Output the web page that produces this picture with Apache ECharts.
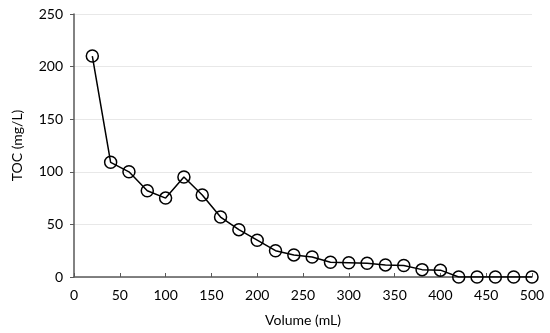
<!DOCTYPE html>
<html><head><meta charset="utf-8">
<script src="https://cdn.jsdelivr.net/npm/echarts@6/dist/echarts.min.js"></script>
<style>html,body{margin:0;padding:0;background:#fff}#c{width:550px;height:333px}</style>
</head><body><div id="c"></div>
<script>
const volumes = [20,40,60,80,100,120,140,160,180,200,220,240,260,280,300,320,340,360,380,400,420,440,460,480,500];
const toc = [210,109,100,82,75,95,78,57,45,35,25,21,19,14,13.5,13,11.5,11,7,6.5,0,0,0,0,0];
const chart = echarts.init(document.getElementById('c'));
const font = 'Lato, "Open Sans", sans-serif';
chart.setOption({
  animation:false,
  grid:{left:74,right:18,top:14,bottom:56},
  xAxis:{type:'value',min:0,max:500,interval:50,name:'Volume (mL)',nameLocation:'middle',nameGap:36,
    nameTextStyle:{color:'#000',fontSize:14,fontFamily:font},
    axisLine:{lineStyle:{color:'#595959',width:1.5}},
    axisTick:{show:true,inside:true,length:4,lineStyle:{color:'#595959'}},
    axisLabel:{color:'#000',fontSize:14,fontFamily:font,margin:11},
    splitLine:{show:false}},
  yAxis:{type:'value',min:0,max:250,interval:50,name:'TOC (mg/L)',nameLocation:'middle',nameGap:50,
    nameTextStyle:{color:'#000',fontSize:14,fontFamily:font},
    axisLine:{show:true,lineStyle:{color:'#595959',width:1.5}},
    axisTick:{show:true,length:4,lineStyle:{color:'#595959'}},
    axisLabel:{color:'#000',fontSize:14,fontFamily:font,margin:11},
    splitLine:{show:true,lineStyle:{color:'#e8e8e8',width:1}}},
  series:[{type:'line',data:volumes.map((v,i)=>[v,toc[i]]),
    lineStyle:{color:'#000',width:1.5},
    symbol:'circle',symbolSize:12,showAllSymbol:true,
    itemStyle:{color:'rgba(0,0,0,0)',borderColor:'#000',borderWidth:1.5}}]
});
</script></body></html>
